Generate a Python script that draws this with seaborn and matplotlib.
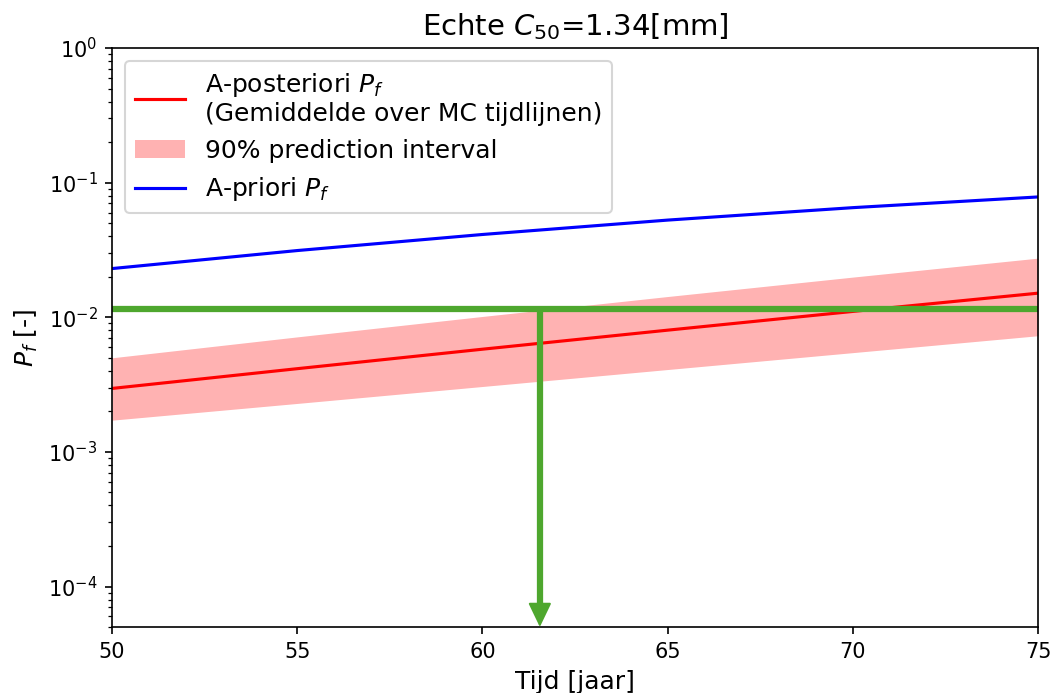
import numpy as np
import pandas as pd
import seaborn as sns
import matplotlib
matplotlib.use("Agg")
import matplotlib.pyplot as plt

# Values
years = [50, 55, 60, 65, 70, 75]
pf_posterior = [0.00296, 0.00415, 0.00579, 0.00802, 0.01105, 0.0151]
pf_lower = [0.00172, 0.00229, 0.00306, 0.00409, 0.00546, 0.00729]
pf_upper = [0.00500, 0.00715, 0.01014, 0.01426, 0.01988, 0.0275]
pf_prior = [0.0230, 0.0313, 0.0412, 0.0527, 0.0652, 0.0783]

pf_target = 0.01153
t_target = 61.55

df = pd.DataFrame({
    'Tijd': years,
    'posterior': pf_posterior,
    'lower': pf_lower,
    'upper': pf_upper,
    'prior': pf_prior,
})

fig, ax = plt.subplots(figsize=(7.02, 4.62), dpi=150)
fig.subplots_adjust(left=0.1064, right=0.9858, top=0.9307, bottom=0.0952)

sns.lineplot(data=df, x='Tijd', y='posterior', color='red', lw=1.5, ax=ax)
band = ax.fill_between(df['Tijd'], df['lower'], df['upper'], color='red', alpha=0.3, lw=0)
sns.lineplot(data=df, x='Tijd', y='prior', color='blue', lw=1.5, ax=ax)
post_line, prior_line = ax.lines[0], ax.lines[1]

ax.set_yscale('log')
ax.set_xlim(50, 75)
ax.set_ylim(5e-5, 1)

# green read-off line with arrow down to the time axis
green = '#4ea72e'
ax.hlines(pf_target, 50, 75, color=green, lw=3, capstyle='butt')
ax.annotate('', xy=(t_target, 5e-5), xytext=(t_target, pf_target),
            arrowprops=dict(arrowstyle='-|>,head_length=0.5,head_width=0.24',
                            mutation_scale=20, color=green, lw=1,
                            shrinkA=0, shrinkB=0))
ax.vlines(t_target, 1.2e-4 / 1.8, pf_target, color=green, lw=3)

ax.legend([post_line, band, prior_line],
          ['A-posteriori $P_f$\n(Gemiddelde over MC tijdlijnen)',
           '90% prediction interval',
           'A-priori $P_f$'],
          loc='upper left', fontsize=12)

ax.set_title('Echte $C_{50}$=1.34[mm]', fontsize=14)
ax.set_xlabel('Tijd [jaar]', fontsize=12)
ax.set_ylabel('$P_f$ [-]', fontsize=12)

fig.savefig('out.png', dpi=150)
